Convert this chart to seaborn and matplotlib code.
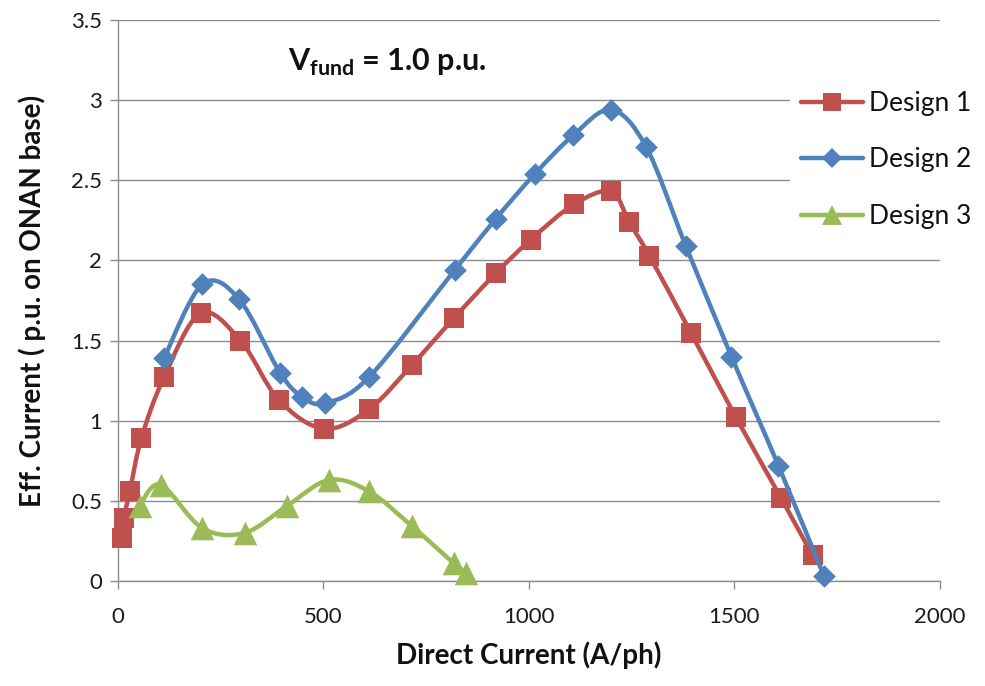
import numpy as np
import pandas as pd
import matplotlib
matplotlib.use("Agg")
import matplotlib.pyplot as plt
import seaborn as sns
from matplotlib.path import Path
from matplotlib.patches import PathPatch
from matplotlib.lines import Line2D

# Effective current vs. direct current for three designs
d1_x = [11, 15, 30, 58, 113, 202, 299, 392, 502, 611, 717, 818, 920, 1005,
        1110, 1200, 1244, 1293, 1394, 1504, 1613, 1690]
d1_y = [0.27, 0.39, 0.56, 0.89, 1.27, 1.67, 1.50, 1.13, 0.95, 1.07, 1.35,
        1.64, 1.92, 2.13, 2.35, 2.43, 2.24, 2.03, 1.55, 1.02, 0.52, 0.16]

d2_x = [113, 206, 295, 395, 449, 504, 611, 820, 920, 1015, 1108, 1200, 1285,
        1382, 1493, 1607, 1718]
d2_y = [1.39, 1.85, 1.76, 1.30, 1.15, 1.11, 1.27, 1.94, 2.26, 2.54, 2.78,
        2.94, 2.71, 2.09, 1.40, 0.72, 0.03]

d3_x = [54, 105, 206, 309, 413, 514, 611, 717, 818, 847]
d3_y = [0.47, 0.60, 0.33, 0.30, 0.47, 0.63, 0.56, 0.34, 0.11, 0.05]

series_names = ["Design 1", "Design 2", "Design 3"]
x_ticks = [0, 500, 1000, 1500, 2000]
y_ticks = [0, 0.5, 1, 1.5, 2, 2.5, 3, 3.5]
y_tick_labels = ["0", "0.5", "1", "1.5", "2", "2.5", "3", "3.5"]

colors = ["#C0504D", "#4F81BD", "#9BBB59"]
markers = ["s", "D", "^"]
marker_sizes = [15, 11.5, 17]

sns.set_theme(style="white")
plt.rcParams["font.family"] = ["Lato", "DejaVu Sans"]
plt.rcParams["mathtext.fontset"] = "custom"
plt.rcParams["mathtext.rm"] = "Lato"
plt.rcParams["mathtext.bf"] = "Lato:bold"

fig = plt.figure(figsize=(9.85, 6.86), dpi=100)
ax = fig.add_axes([0.1193, 0.1531, 0.8350, 0.8178])


def smooth_path(xs, ys):
    """Cubic Bezier path through the points (Catmull-Rom style smoothing)."""
    pts = np.column_stack([xs, ys]).astype(float)
    n = len(pts)
    verts = [pts[0]]
    codes = [Path.MOVETO]
    for i in range(n - 1):
        p0 = pts[i - 1] if i > 0 else pts[i]
        p1 = pts[i]
        p2 = pts[i + 1]
        p3 = pts[i + 2] if i + 2 < n else pts[i + 1]
        c1 = p1 + (p2 - p0) / 6.0
        c2 = p2 - (p3 - p1) / 6.0
        verts += [c1, c2, p2]
        codes += [Path.CURVE4] * 3
    return Path(verts, codes)


series = [(d1_x, d1_y), (d2_x, d2_y), (d3_x, d3_y)]
for k, ((xs, ys), name) in enumerate(zip(series, series_names)):
    patch = PathPatch(smooth_path(xs, ys), facecolor="none",
                      edgecolor=colors[k], lw=3.2, capstyle="round",
                      joinstyle="round", zorder=3 + 2 * k)
    ax.add_patch(patch)
    df = pd.DataFrame({"x": xs, "y": ys})
    sns.scatterplot(data=df, x="x", y="y", ax=ax, marker=markers[k],
                    s=marker_sizes[k] ** 2, color=colors[k], linewidth=0,
                    zorder=4 + 2 * k, legend=False, clip_on=False)

ax.set_xlim(0, 2000)
ax.set_ylim(0, 3.5)
ax.set_xticks(x_ticks)
ax.set_xticklabels([str(v) for v in x_ticks])
ax.set_yticks(y_ticks)
ax.set_yticklabels(y_tick_labels)

grid_c = "#8c8c8c"
ax.yaxis.grid(True, color=grid_c, lw=1.0)
ax.xaxis.grid(False)
ax.set_axisbelow(True)
for side in ["top", "right"]:
    ax.spines[side].set_visible(False)
for side in ["left", "bottom"]:
    ax.spines[side].set_color(grid_c)
    ax.spines[side].set_linewidth(1.0)

ax.tick_params(axis="both", which="major", bottom=True, left=True,
               direction="out", length=6, width=1.0, color=grid_c,
               labelsize=16, labelcolor="#1a1a1a")
ax.tick_params(axis="x", pad=13)
ax.tick_params(axis="y", pad=5)

ax.set_xlabel("Direct Current (A/ph)", fontsize=20, fontweight="bold",
              color="#111111", labelpad=10)
ax.set_ylabel("Eff. Current ( p.u. on ONAN base)", fontsize=20,
              fontweight="bold", color="#111111", labelpad=18)

ax.text(0.328, 0.925, r"$\mathbf{V}_{\mathbf{fund}}$ = 1.0 p.u.",
        transform=ax.transAxes, ha="center", va="center", fontsize=22,
        fontweight="bold", color="#111111")

handles = [Line2D([], [], color=c, lw=3.2, marker=m, markersize=ms * 0.85,
                  markeredgewidth=0)
           for c, m, ms in zip(colors, markers, marker_sizes)]
leg = fig.legend(handles, series_names, loc="center left",
                 bbox_to_anchor=(790 / 985, (686 - 160) / 686),
                 fontsize=19, frameon=True, handlelength=2.35,
                 handletextpad=0.23, labelspacing=1.2, borderpad=0.4,
                 borderaxespad=0)
leg.get_frame().set_facecolor("white")
leg.get_frame().set_edgecolor("white")
leg.get_frame().set_alpha(1.0)
leg.get_frame().set_boxstyle("square", pad=0)
for t in leg.get_texts():
    t.set_color("#111111")

fig.savefig("out.png", dpi=100, facecolor="white")
